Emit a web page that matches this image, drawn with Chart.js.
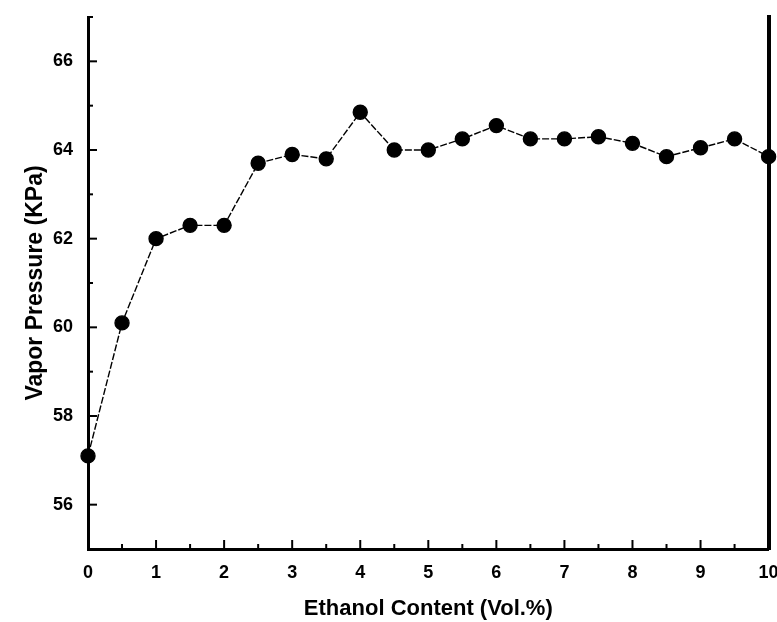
<!DOCTYPE html>
<html>
<head>
<meta charset="utf-8">
<script src="https://cdn.jsdelivr.net/npm/chart.js@4.4.0/dist/chart.umd.min.js"></script>
<style>
  html, body { margin: 0; padding: 0; background: #fff; }
  #wrap { width: 777px; height: 622px; }
</style>
</head>
<body>
<div id="wrap"><canvas id="graphCanvas" width="777" height="622"></canvas></div>
<script>
// ethanol content (vol.%) and vapor pressure (kPa)
const ethanol = [0, 0.5, 1, 1.5, 2, 2.5, 3, 3.5, 4, 4.5, 5, 5.5, 6, 6.5, 7, 7.5, 8, 8.5, 9, 9.5, 10];
const pressure = [57.1, 60.1, 62.0, 62.3, 62.3, 63.7, 63.9, 63.8, 64.85, 64.0, 64.0, 64.25, 64.55, 64.25, 64.25, 64.3, 64.15, 63.85, 64.05, 64.25, 63.85];
const xLabels = ['0', '1', '2', '3', '4', '5', '6', '7', '8', '9', '10'];
const yLabels = ['56', '58', '60', '62', '64', '66'];

const font = 'Liberation Sans, Arial, sans-serif';

// ticks pointing into the plot, like the scanned figure
const inwardTicks = {
    id: 'inwardTicks',
    afterDraw(chart) {
        const ctx = chart.ctx;
        const xs = chart.scales.x;
        const ys = chart.scales.y;
        const area = chart.chartArea;
        ctx.save();
        ctx.strokeStyle = '#000';
        ctx.lineWidth = 2;
        xs.ticks.forEach(t => {
            const px = xs.getPixelForValue(t.value);
            const len = Number.isInteger(t.value) ? 9 : 5;
            ctx.beginPath();
            ctx.moveTo(px, area.bottom);
            ctx.lineTo(px, area.bottom - len);
            ctx.stroke();
        });
        ys.ticks.forEach(t => {
            const py = ys.getPixelForValue(t.value);
            const len = t.value % 2 === 0 ? 9 : 5;
            ctx.beginPath();
            ctx.moveTo(area.left, py);
            ctx.lineTo(area.left + len, py);
            ctx.stroke();
        });
        ctx.restore();
    }
};

const ctx = document.getElementById('graphCanvas').getContext('2d');
new Chart(ctx, {
    type: 'line',
    data: {
        datasets: [{
            label: 'Vapor Pressure',
            data: ethanol.map((v, i) => ({ x: v, y: pressure[i] })),
            borderColor: '#000',
            borderWidth: 1.4,
            borderDash: [7, 2],
            backgroundColor: '#000',
            pointBackgroundColor: '#000',
            pointBorderColor: '#000',
            pointRadius: 7,
            tension: 0,
            clip: false
        }]
    },
    options: {
        responsive: false,
        animation: false,
        layout: { padding: { top: 17, left: 0, right: 0, bottom: 0 } },
        plugins: {
            legend: { display: false },
            tooltip: { enabled: false }
        },
        scales: {
            x: {
                type: 'linear',
                min: 0,
                max: 10,
                afterFit(s) {
                    s.height = 73;
                    s.paddingLeft = 0;
                    s.paddingRight = 0;
                },
                grid: { display: false, drawTicks: false },
                border: { display: true, color: '#000', width: 3 },
                ticks: {
                    stepSize: 0.5,
                    autoSkip: false,
                    maxRotation: 0,
                    padding: 13,
                    color: '#000',
                    font: { family: font, size: 18, weight: 'bold' },
                    callback: v => Number.isInteger(v) ? xLabels[v] : ''
                },
                title: {
                    display: true,
                    text: 'Ethanol Content (Vol.%)',
                    color: '#000',
                    padding: { top: 10, bottom: 0 },
                    font: { family: font, size: 22, weight: 'bold' }
                }
            },
            y: {
                type: 'linear',
                position: 'left',
                min: 55,
                max: 67,
                afterFit(s) {
                    s.width = 88;
                    s.paddingTop = 0;
                    s.paddingBottom = 0;
                },
                grid: { display: false, drawTicks: false },
                border: { display: true, color: '#000', width: 3 },
                ticks: {
                    stepSize: 1,
                    autoSkip: false,
                    padding: 15,
                    color: '#000',
                    font: { family: font, size: 18, weight: 'bold' },
                    callback: v => (v % 2 === 0 && yLabels.includes(String(v))) ? String(v) : ''
                },
                title: {
                    display: true,
                    text: 'Vapor Pressure (KPa)',
                    color: '#000',
                    padding: { top: 22, bottom: 0 },
                    font: { family: font, size: 23, weight: 'bold' }
                }
            },
            y2: {
                type: 'linear',
                position: 'right',
                min: 55,
                max: 67,
                afterFit(s) {
                    s.width = 4;
                    s.paddingTop = 0;
                    s.paddingBottom = 0;
                },
                grid: { display: false, drawTicks: false },
                border: { display: true, color: '#000', width: 4 },
                ticks: { display: false }
            }
        }
    },
    plugins: [inwardTicks]
});
</script>
</body>
</html>
